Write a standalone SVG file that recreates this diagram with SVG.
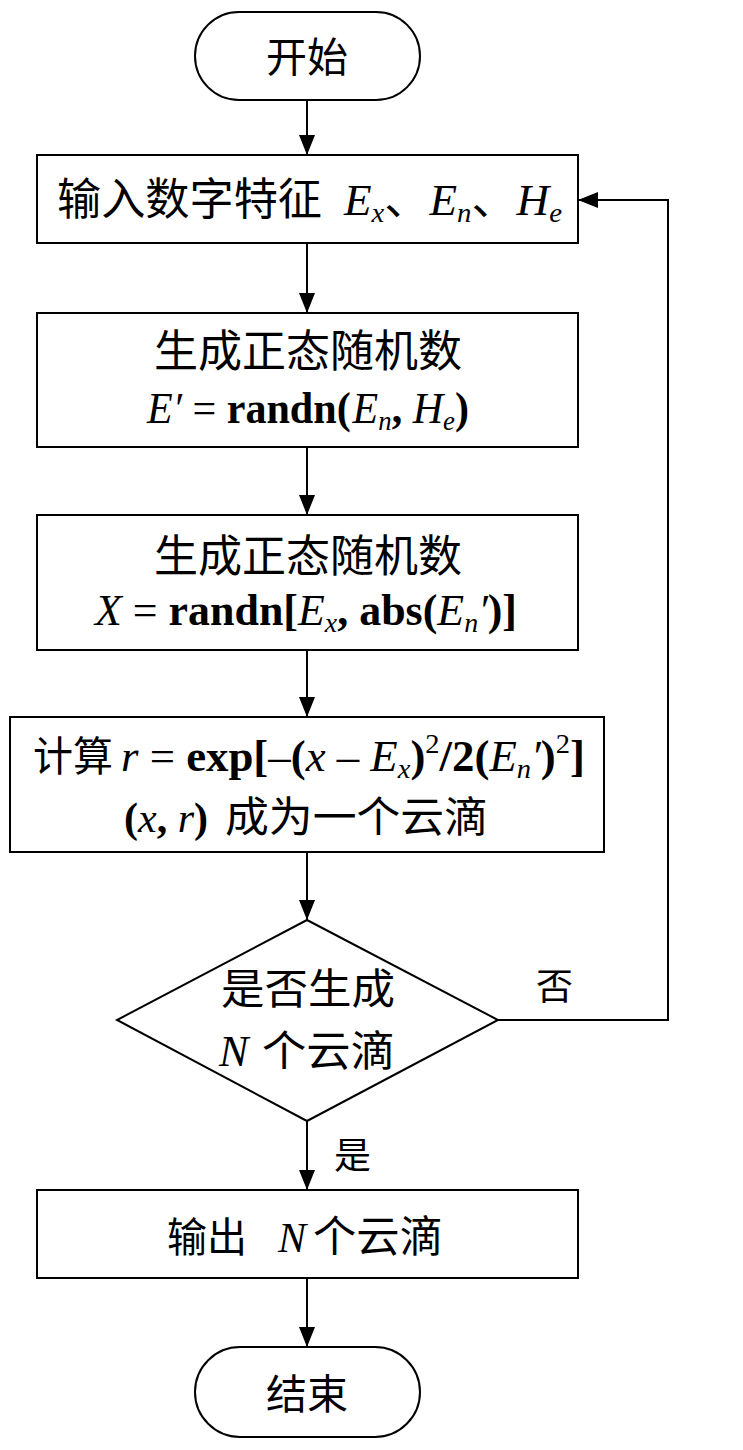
<svg xmlns="http://www.w3.org/2000/svg" width="743" height="1450" viewBox="0 0 743 1450">
<style>
.shape{fill:#fff;stroke:#000;stroke-width:2}
.conn{fill:none;stroke:#000;stroke-width:2}
.cjk{font-family:"Noto Sans CJK SC","Noto Sans CJK TC",sans-serif;fill:#000}
.t{font-family:"Liberation Serif","Times New Roman",serif;fill:#000}
.b{font-weight:bold}
.i{font-style:italic}
</style>
<defs>
<marker id="ah" markerUnits="userSpaceOnUse" markerWidth="20" markerHeight="16" refX="20" refY="8" orient="auto">
<path d="M0,0 L20,8 L0,16 z" fill="#000"/>
</marker>
</defs>
<rect width="743" height="1450" fill="#fff"/>
<g id="connectors">
<line class="conn" x1="307" y1="100" x2="307" y2="155" marker-end="url(#ah)"/>
<line class="conn" x1="307" y1="243" x2="307" y2="313" marker-end="url(#ah)"/>
<line class="conn" x1="307" y1="447" x2="307" y2="515" marker-end="url(#ah)"/>
<line class="conn" x1="307" y1="650" x2="307" y2="717" marker-end="url(#ah)"/>
<line class="conn" x1="307" y1="852" x2="307" y2="920" marker-end="url(#ah)"/>
<line class="conn" x1="307" y1="1121" x2="307" y2="1190" marker-end="url(#ah)"/>
<line class="conn" x1="307" y1="1278" x2="307" y2="1347" marker-end="url(#ah)"/>
<polyline class="conn" points="498,1020 668,1020 668,200 578,200" marker-end="url(#ah)"/>
<text class="cjk" x="536" y="1000" font-size="37">否</text>
<text class="cjk" x="334" y="1169" font-size="37">是</text>
</g>
<g id="start">
<rect class="shape" x="195" y="12" width="225" height="88" rx="44" ry="44"/>
<text class="cjk" x="307" y="72" font-size="41" text-anchor="middle">开始</text>
</g>
<g id="input">
<rect class="shape" x="37" y="155" width="541" height="88"/>
<text class="cjk" x="57" y="215" font-size="44" textLength="265" lengthAdjust="spacingAndGlyphs">输入数字特征</text>
<text class="t" x="344" y="215" font-size="44" textLength="218" lengthAdjust="spacingAndGlyphs"><tspan class="i">E</tspan><tspan class="i" font-size="28" dy="7">x</tspan><tspan class="cjk" dy="-7">、</tspan><tspan class="i">E</tspan><tspan class="i" font-size="28" dy="7">n</tspan><tspan class="cjk" dy="-7">、</tspan><tspan class="i">H</tspan><tspan class="i" font-size="28" dy="7">e</tspan></text>
</g>
<g id="gen1">
<rect class="shape" x="37" y="313" width="541" height="134"/>
<text class="cjk" x="154" y="367" font-size="44" textLength="308" lengthAdjust="spacingAndGlyphs">生成正态随机数</text>
<text class="t" x="147" y="423" font-size="44" textLength="322" lengthAdjust="spacingAndGlyphs"><tspan class="i">E′</tspan> = <tspan class="b">randn(</tspan><tspan class="i" dx="2">E</tspan><tspan class="i" font-size="28" dy="7">n</tspan><tspan class="b" dy="-7">, </tspan><tspan class="i">H</tspan><tspan class="i" font-size="28" dy="7">e</tspan><tspan class="b" dy="-7">)</tspan></text>
</g>
<g id="gen2">
<rect class="shape" x="37" y="515" width="541" height="135"/>
<text class="cjk" x="154" y="572" font-size="44" textLength="308" lengthAdjust="spacingAndGlyphs">生成正态随机数</text>
<text class="t" x="95" y="625" font-size="44" textLength="422" lengthAdjust="spacingAndGlyphs"><tspan class="i">X</tspan> = <tspan class="b">randn[</tspan><tspan class="i">E</tspan><tspan class="i" font-size="28" dy="7">x</tspan><tspan class="b" dy="-7">, abs(</tspan><tspan class="i">E</tspan><tspan class="i" font-size="28" dy="7">n</tspan><tspan class="i" dy="-7">′</tspan><tspan class="b">)]</tspan></text>
</g>
<g id="calc">
<rect class="shape" x="10" y="717" width="594" height="135"/>
<text class="cjk" x="33" y="771" font-size="41" textLength="80" lengthAdjust="spacingAndGlyphs">计算</text>
<text class="t" x="121" y="771" font-size="44" textLength="464" lengthAdjust="spacingAndGlyphs"><tspan class="i">r</tspan> = <tspan class="b">exp[</tspan>–<tspan class="b">(</tspan><tspan class="i">x</tspan> – <tspan class="i">E</tspan><tspan class="i" font-size="28" dy="7">x</tspan><tspan class="b" dy="-7">)</tspan><tspan font-size="28" dy="-18">2</tspan><tspan class="b" dy="18">/2(</tspan><tspan class="i">E</tspan><tspan class="i" font-size="28" dy="7">n</tspan><tspan class="i" dy="-7">′</tspan><tspan class="b">)</tspan><tspan font-size="28" dy="-18">2</tspan><tspan class="b" dy="18">]</tspan></text>
<text class="t" x="124" y="832" font-size="43" textLength="84" lengthAdjust="spacingAndGlyphs"><tspan class="b">(</tspan><tspan class="i">x</tspan><tspan class="b">, </tspan><tspan class="i">r</tspan><tspan class="b">)</tspan></text>
<text class="cjk" x="225" y="832" font-size="42" textLength="263" lengthAdjust="spacingAndGlyphs">成为一个云滴</text>
</g>
<g id="decision">
<polygon class="shape" points="307,920 498,1020 307,1121 117,1020"/>
<text class="cjk" x="221" y="1004" font-size="42" textLength="174" lengthAdjust="spacingAndGlyphs">是否生成</text>
<text class="t i" x="219" y="1066" font-size="44">N</text>
<text class="cjk" x="262" y="1066" font-size="42" textLength="133" lengthAdjust="spacingAndGlyphs">个云滴</text>
</g>
<g id="output">
<rect class="shape" x="37" y="1190" width="541" height="88"/>
<text class="cjk" x="167" y="1252" font-size="41" textLength="80" lengthAdjust="spacingAndGlyphs">输出</text>
<text class="t i" x="278" y="1252" font-size="42">N</text>
<text class="cjk" x="313" y="1252" font-size="43" textLength="130" lengthAdjust="spacingAndGlyphs">个云滴</text>
</g>
<g id="end">
<rect class="shape" x="195" y="1347" width="225" height="90" rx="45" ry="45"/>
<text class="cjk" x="307" y="1409" font-size="41" text-anchor="middle">结束</text>
</g>
</svg>
